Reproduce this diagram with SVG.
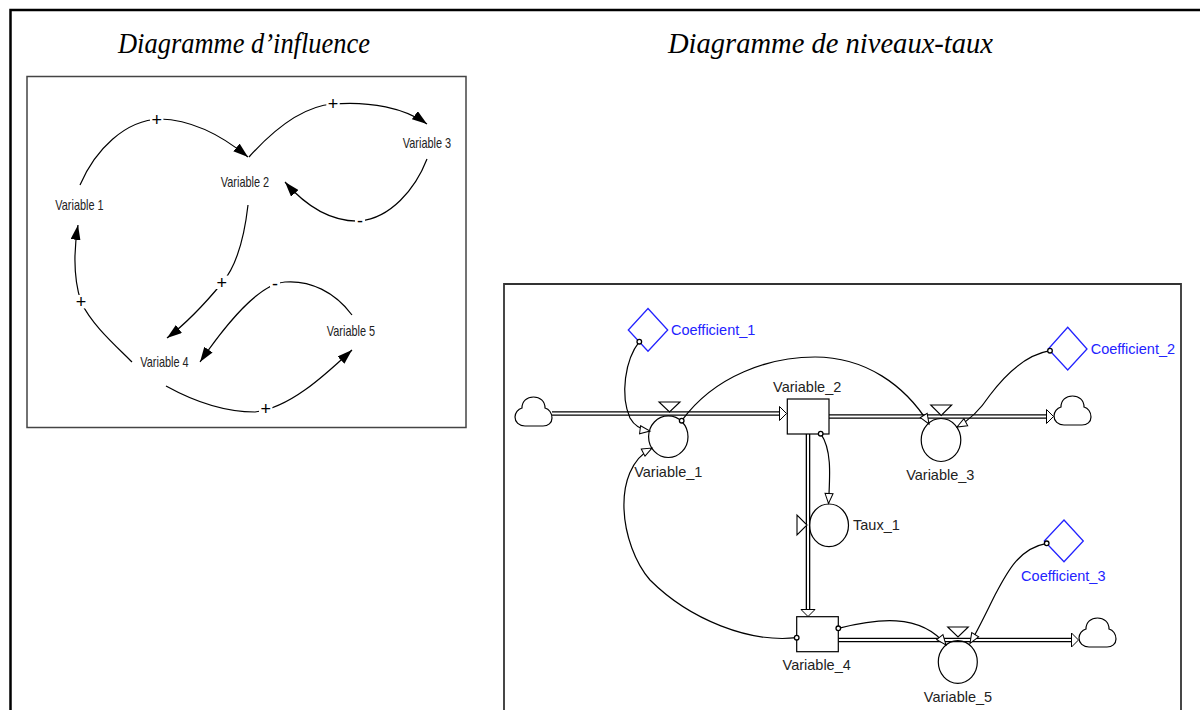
<svg xmlns="http://www.w3.org/2000/svg" width="1200" height="710" viewBox="0 0 1200 710">
<style>
.title{font-family:"Liberation Serif",serif;font-style:italic;font-size:29px;fill:#000;text-anchor:middle}
.ilab{font-family:"Liberation Sans",sans-serif;font-size:14px;fill:#222;text-anchor:middle}
.sign{font-family:"Liberation Sans",sans-serif;font-size:18px;fill:#000;text-anchor:middle}
.gap{fill:#fff}
.ilink{fill:none;stroke:#000;stroke-width:1.2;marker-end:url(#solidArrow)}
.rlab{font-family:"Liberation Sans",sans-serif;font-size:14.5px;fill:#222}
.clab{font-family:"Liberation Sans",sans-serif;font-size:14.5px;fill:#2323ff}
.stock{fill:#fff;stroke:#000;stroke-width:1.2}
.aux{fill:none;stroke:#000;stroke-width:1.2}
.valve{fill:#fff;stroke:#000;stroke-width:1.1}
.coef{fill:#fff;stroke:#2323ff;stroke-width:1.3}
.cloud{fill:#fff;stroke:#000;stroke-width:1.2}
.pipeOut{fill:none;stroke:#000;stroke-width:4.6}
.pipeIn{fill:none;stroke:#fff;stroke-width:2;marker-end:url(#pipeArrow)}
.link{fill:none;stroke:#000;stroke-width:1.2;marker-end:url(#hollowArrow)}
.dot{fill:#fff;stroke:#000;stroke-width:1.3}
</style>
<defs>
<marker id="solidArrow" viewBox="0 0 15 10" refX="15" refY="5" markerWidth="15" markerHeight="10" markerUnits="userSpaceOnUse" orient="auto">
<path d="M0,0 L15,5 L0,10 Z" fill="#000"/>
</marker>
<marker id="hollowArrow" viewBox="-1 -1 12 10" refX="10" refY="4" markerWidth="12" markerHeight="10" markerUnits="userSpaceOnUse" orient="auto" overflow="visible">
<path d="M0,0 L10,4 L0,8 Z" fill="#fff" stroke="#000" stroke-width="1"/>
</marker>
<marker id="pipeArrow" viewBox="0 0 8 15" refX="8" refY="7.5" markerWidth="8" markerHeight="15" markerUnits="userSpaceOnUse" orient="auto" overflow="visible">
<path d="M0.5,0.5 L7.5,7.5 L0.5,14.5 Z" fill="#fff" stroke="#000" stroke-width="1"/>
</marker>
<path id="cloudShape" d="M10,29 L28,29 C33,29 37,26 37,21 C37,16 34,12 30,11 C30,4 25,0 18.5,0 C12,0 7,4 7,11 C3,12 0,16 0,20 C0,25 4,29 10,29 Z"/>
</defs>
<rect x="0" y="0" width="1200" height="710" fill="#fff"/>
<path d="M10.5,712 V10 H1202" fill="none" stroke="#000" stroke-width="2.5"/>
<text class="title" x="244" y="53" textLength="252" lengthAdjust="spacingAndGlyphs">Diagramme d’influence</text>
<text class="title" x="830.5" y="53" textLength="325" lengthAdjust="spacingAndGlyphs">Diagramme de niveaux-taux</text>

<!-- Influence diagram -->
<rect x="27" y="76.5" width="439" height="351" fill="none" stroke="#444" stroke-width="1.5"/>
<g id="influence-links">
<path class="ilink" d="M80,185 C95,150 125,120 160,119 C195,120 225,138 248,157"/>
<path class="ilink" d="M249,157 C275,128 305,106 333,104 C370,101 405,108 427,124"/>
<path class="ilink" d="M427,159 C415,190 390,218 360,221 C330,222 305,205 285,182"/>
<path class="ilink" d="M248,205 C244,240 235,268 222,283 C208,300 188,322 167,338"/>
<path class="ilink" d="M132,362 C115,345 92,325 81,302 C74,280 73,255 78,225"/>
<path class="ilink" d="M352,315 C335,292 310,280 285,282 C255,284 215,340 200,362"/>
<path class="ilink" d="M166,386 C195,402 225,412 255,412 C290,408 325,375 352,350"/>
<rect class="gap" x="150" y="112.5" width="13.4" height="13.4"/>
<rect class="gap" x="326.3" y="97.3" width="13.4" height="13.4"/>
<rect class="gap" x="355" y="217" width="10" height="8"/>
<rect class="gap" x="215" y="275.6" width="13.4" height="13.4"/>
<rect class="gap" x="74.3" y="295" width="13.4" height="13.4"/>
<rect class="gap" x="270" y="279.5" width="10" height="8"/>
<rect class="gap" x="259" y="401.8" width="13.4" height="13.4"/>
<text class="sign" x="156.7" y="125.5">+</text>
<text class="sign" x="333" y="110">+</text>
<text class="sign" x="360" y="227">-</text>
<text class="sign" x="221.7" y="288.5">+</text>
<text class="sign" x="81" y="308">+</text>
<text class="sign" x="275" y="289.5">-</text>
<text class="sign" x="265.7" y="414.5">+</text>
</g>
<g id="inf-variable-1" transform="translate(79.5,210) scale(0.78,1)"><text class="ilab">Variable 1</text></g>
<g id="inf-variable-2" transform="translate(245,186.7) scale(0.78,1)"><text class="ilab">Variable 2</text></g>
<g id="inf-variable-3" transform="translate(427,147.7) scale(0.78,1)"><text class="ilab">Variable 3</text></g>
<g id="inf-variable-4" transform="translate(164.5,366.7) scale(0.78,1)"><text class="ilab">Variable 4</text></g>
<g id="inf-variable-5" transform="translate(351,335.7) scale(0.78,1)"><text class="ilab">Variable 5</text></g>

<!-- Stock and flow diagram -->
<path d="M504,712 V284 H1181 V712" fill="none" stroke="#333" stroke-width="1.8"/>
<g id="flows">
<path class="pipeOut" d="M552,413.5 H780"/><path class="pipeIn" d="M552,413.5 H787"/>
<path class="pipeOut" d="M829,416.5 H1047"/><path class="pipeIn" d="M829,416.5 H1054"/>
<path class="pipeOut" d="M808,434 V610"/><path class="pipeIn" d="M808,434 V617"/>
<path class="pipeOut" d="M838.3,640 H1072"/><path class="pipeIn" d="M838.3,640 H1079"/>
</g>
<g id="cloud-1"><use href="#cloudShape" class="cloud" transform="translate(515,397)"/></g>
<g id="cloud-2"><use href="#cloudShape" class="cloud" transform="translate(1054,396)"/></g>
<g id="cloud-3"><use href="#cloudShape" class="cloud" transform="translate(1079,618)"/></g>
<g id="variable-2"><rect class="stock" x="787.3" y="399" width="41.7" height="35"/><text class="rlab" x="807.2" y="392" text-anchor="middle">Variable_2</text></g>
<g id="variable-4"><rect class="stock" x="796.7" y="616.7" width="41.6" height="35"/><text class="rlab" x="816.7" y="669.5" text-anchor="middle">Variable_4</text></g>
<g id="variable-1"><polygon class="valve" points="659,402 680,402 669.5,412"/><ellipse class="aux" cx="668.3" cy="436.7" rx="19.7" ry="20.8"/><text class="rlab" x="668.3" y="477" text-anchor="middle">Variable_1</text></g>
<g id="variable-3"><polygon class="valve" points="930.7,405 951.7,405 941.2,415.5"/><ellipse class="aux" cx="941" cy="440" rx="19.8" ry="21.5"/><text class="rlab" x="940.3" y="479.5" text-anchor="middle">Variable_3</text></g>
<g id="taux-1"><polygon class="valve" points="797,515 797,535 807,525"/><ellipse class="aux" cx="829" cy="525.3" rx="19.5" ry="21.3"/><text class="rlab" x="853" y="530">Taux_1</text></g>
<g id="variable-5"><polygon class="valve" points="947.7,627 968.3,627 958,637"/><ellipse class="aux" cx="957.8" cy="662" rx="19.5" ry="21.3"/><text class="rlab" x="958" y="702" text-anchor="middle">Variable_5</text></g>
<g id="coefficient-1"><polygon class="coef" points="648,308.5 667.7,330 648,351.3 628.3,330"/><text class="clab" x="671" y="335.3">Coefficient_1</text></g>
<g id="coefficient-2"><polygon class="coef" points="1067.7,327.3 1087,349 1067.7,370 1048.3,349"/><text class="clab" x="1090.7" y="354.3">Coefficient_2</text></g>
<g id="coefficient-3"><polygon class="coef" points="1064,520 1083.3,541 1064,561.7 1044.3,541"/><text class="clab" x="1063.3" y="581.3" text-anchor="middle">Coefficient_3</text></g>
<g id="connectors">
<path class="link" d="M639.3,341.7 C625,360 620,395 630,418 C635,427 642,430 650,431"/>
<path class="link" d="M681.7,420.7 C715,375 770,357 815,357 C865,357 905,385 929,424"/>
<path class="link" d="M1050,350.7 C1025,355 1005,375 990,395 C980,410 970,420 957,427"/>
<path class="link" d="M820.7,433.7 C832,450 830,475 828.5,503.5"/>
<path class="link" d="M796.7,637.7 C750,643 690,620 650,580 C620,545 610,470 652,448"/>
<path class="link" d="M838.3,628.3 C875,619 920,612 946,645"/>
<path class="link" d="M1046.7,543.3 C1020,548 1008,570 995,595 C985,615 978,630 970,643.3"/>
<circle class="dot" cx="639.3" cy="341.7" r="2.3"/>
<circle class="dot" cx="681.7" cy="420.7" r="2.3"/>
<circle class="dot" cx="1050" cy="350.7" r="2.3"/>
<circle class="dot" cx="820.7" cy="433.7" r="2.3"/>
<circle class="dot" cx="796.7" cy="637.7" r="2.3"/>
<circle class="dot" cx="838.3" cy="628.3" r="2.3"/>
<circle class="dot" cx="1046.7" cy="543.3" r="2.3"/>
</g>
</svg>
